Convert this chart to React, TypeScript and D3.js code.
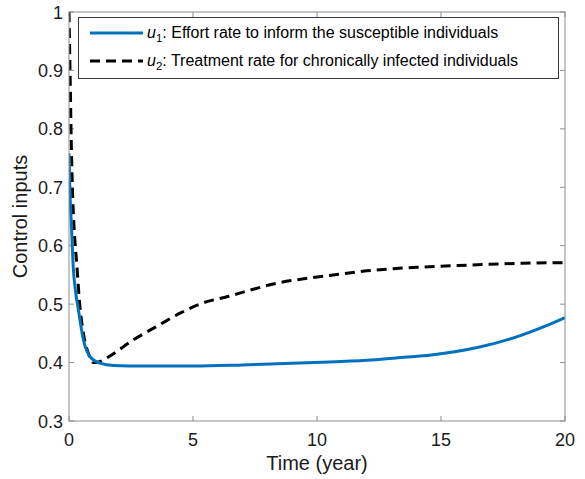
import React from "react";
import * as d3 from "d3";

const u1T = [0, 0.04, 0.1, 0.17, 0.27, 0.38, 0.58, 0.85, 1.25, 1.8, 3, 5, 7, 9, 10.5, 12, 13.5, 14.6, 16.6, 18.05, 19.3, 20];
const u1V = [0.758, 0.69, 0.633, 0.564, 0.52, 0.49, 0.439, 0.41, 0.399, 0.395, 0.394, 0.394, 0.396, 0.399, 0.401, 0.404, 0.409, 0.413, 0.427, 0.444, 0.464, 0.477];

const u2T = [0, 0.02, 0.05, 0.09, 0.13, 0.17, 0.22, 0.31, 0.44, 0.58, 0.78, 0.98, 1.2, 1.6, 2.6, 3.5, 4.5, 5.4, 6.4, 7.3, 8.4, 9.4, 10.5, 12, 14, 16.2, 18.3, 20];
const u2V = [1.0, 0.95, 0.88, 0.78, 0.71, 0.66, 0.62, 0.57, 0.496, 0.45, 0.416, 0.4, 0.401, 0.41, 0.439, 0.461, 0.485, 0.502, 0.513, 0.524, 0.536, 0.543, 0.549, 0.557, 0.563, 0.567, 0.57, 0.571];

const xTicks = [0, 5, 10, 15, 20];
const yTicks = [0.3, 0.4, 0.5, 0.6, 0.7, 0.8, 0.9, 1];
const yTickLabels = ["0.3", "0.4", "0.5", "0.6", "0.7", "0.8", "0.9", "1"];

const W = 585, H = 479;
const L = 69, R = 565, T = 12, B = 421;
const axisColor = "#8c8c8c";
const textColor = "#1a1a1a";
const font = "'Liberation Sans', Arial, sans-serif";

export default function App() {
  const x = d3.scaleLinear().domain([0, 20]).range([L, R]);
  const y = d3.scaleLinear().domain([0.3, 1]).range([B, T]);
  const line = d3.line<[number, number]>().x(d => x(d[0])).y(d => y(d[1])).curve(d3.curveMonotoneX);
  const p1 = line(u1T.map((t, i) => [t, u1V[i]]) as [number, number][]) || "";
  const p2 = line(u2T.map((t, i) => [t, u2V[i]]) as [number, number][]) || "";
  const tl = 5;
  return (
    <svg width={W} height={H} style={{ position: "absolute", left: 0, top: 0, background: "#fff" }} fontFamily={font}>
      <defs>
        <clipPath id="pa"><rect x={L} y={T - 2} width={R - L} height={B - T + 2} /></clipPath>
      </defs>
      <rect x={0} y={0} width={W} height={H} fill="#fff" />
      {xTicks.map(t => (
        <g key={"x" + t}>
          <line x1={x(t)} x2={x(t)} y1={B} y2={B - tl} stroke={axisColor} strokeWidth={1} />
          <line x1={x(t)} x2={x(t)} y1={T} y2={T + tl} stroke={axisColor} strokeWidth={1} />
          <text x={x(t)} y={B + 25} textAnchor="middle" fontSize={18} fill={textColor}>{t}</text>
        </g>
      ))}
      {yTicks.map((t, i) => (
        <g key={"y" + t}>
          <line x1={L} x2={L + tl} y1={y(t)} y2={y(t)} stroke={axisColor} strokeWidth={1} />
          <line x1={R} x2={R - tl} y1={y(t)} y2={y(t)} stroke={axisColor} strokeWidth={1} />
          <text x={L - 6} y={y(t) + 6.5} textAnchor="end" fontSize={18} fill={textColor}>{yTickLabels[i]}</text>
        </g>
      ))}
      <g clipPath="url(#pa)">
        <path d={p2} fill="none" stroke="#000" strokeWidth={3} strokeDasharray="10,6" />
        <path d={p1} fill="none" stroke="#0072BD" strokeWidth={3} />
      </g>
      <rect x={L} y={T} width={R - L} height={B - T} fill="none" stroke={axisColor} strokeWidth={1} />
      <rect x={78.5} y={17.5} width={480} height={61} fill="#fff" stroke="#3a3a3a" strokeWidth={1} />
      <line x1={90} x2={143} y1={33} y2={33} stroke="#0072BD" strokeWidth={3} />
      <line x1={90} x2={143} y1={61} y2={61} stroke="#000" strokeWidth={3} strokeDasharray="10,6" />
      <text x={147} y={38} fontSize={16} fill="#000">
        <tspan fontStyle="italic">u</tspan>
        <tspan fontSize={11.5} dy={4}>1</tspan>
        <tspan dy={-4}>: Effort rate to inform the susceptible individuals</tspan>
      </text>
      <text x={147} y={66} fontSize={16} fill="#000">
        <tspan fontStyle="italic">u</tspan>
        <tspan fontSize={11.5} dy={4}>2</tspan>
        <tspan dy={-4}>: Treatment rate for chronically infected individuals</tspan>
      </text>
      <text x={(L + R) / 2} y={470} textAnchor="middle" fontSize={20} fill={textColor}>Time (year)</text>
      <text transform={`translate(27,${(T + B) / 2}) rotate(-90)`} textAnchor="middle" fontSize={20} fill={textColor}>Control inputs</text>
    </svg>
  );
}
